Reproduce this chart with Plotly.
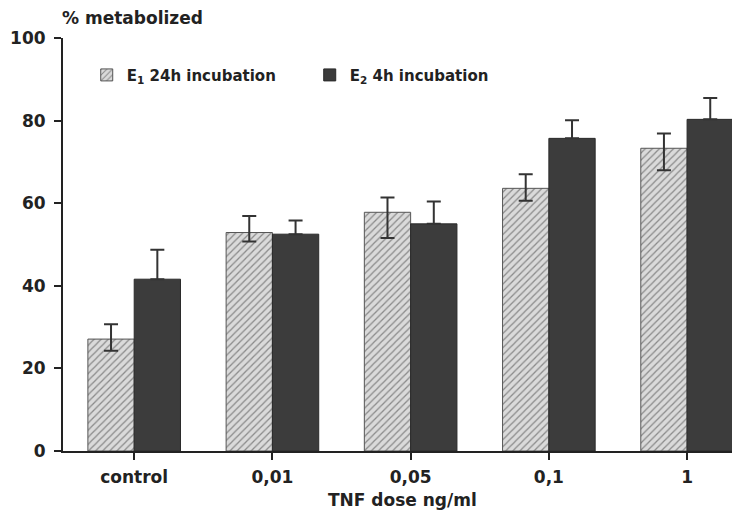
import plotly.graph_objects as go

categories = ["control", "0,01", "0,05", "0,1", "1"]
e1_values = [27.1, 52.9, 57.8, 63.6, 73.3]
e1_err_plus = [3.6, 4.0, 3.6, 3.4, 3.6]
e1_err_minus = [2.8, 2.2, 6.2, 3.0, 5.3]
e2_values = [41.6, 52.5, 55.0, 75.7, 80.3]
e2_err_plus = [7.1, 3.3, 5.4, 4.4, 5.2]
y_ticks = [0, 20, 40, 60, 80, 100]

FONT = "DejaVu Sans"
INK = "#222222"

fig = go.Figure()
fig.add_trace(go.Bar(
    x=categories, y=e1_values, name="E<sub>1</sub> 24h incubation",
    marker=dict(color="#d6d6d6",
                pattern=dict(shape="/", bgcolor="#dadada", fgcolor="#8a8a8a",
                             size=5, solidity=0.25, fillmode="replace"),
                line=dict(color="#555555", width=1)),
    error_y=dict(type="data", symmetric=False, array=e1_err_plus,
                 arrayminus=e1_err_minus, color="#333333", thickness=2, width=7),
))
fig.add_trace(go.Bar(
    x=categories, y=e2_values, name="E<sub>2</sub> 4h incubation",
    marker=dict(color="#3c3c3c", line=dict(color="#2a2a2a", width=1)),
    error_y=dict(type="data", array=e2_err_plus, arrayminus=[0]*5,
                 color="#333333", thickness=2, width=7),
))

fig.update_layout(
    width=740, height=510,
    margin=dict(l=55, r=7, t=30, b=67, autoexpand=False),
    paper_bgcolor="white", plot_bgcolor="white",
    barmode="group", bargap=0.33, bargroupgap=0,
    font=dict(family=FONT, size=18, color=INK),
    showlegend=True,
    legend=dict(orientation="h", x=0.035, y=0.91, xanchor="left", yanchor="middle",
                font=dict(family=FONT, size=15, color=INK, weight="bold"),
                bgcolor="rgba(0,0,0,0)", itemwidth=30, tracegroupgap=0,
                entrywidth=178, entrywidthmode="pixels"),
    xaxis=dict(range=[-0.515, 4.39], showline=True, linecolor=INK, linewidth=2,
               ticks="outside", ticklen=7, tickwidth=2, tickcolor=INK,
               showgrid=False, zeroline=False, ticklabelstandoff=3, automargin=False,
               tickfont=dict(family=FONT, size=17, color=INK, weight="bold")),
    yaxis=dict(range=[0, 100], tickvals=y_ticks, showline=True, linecolor=INK,
               linewidth=2, ticks="outside", ticklen=7, tickwidth=2, tickcolor=INK,
               showgrid=False, zeroline=False, ticklabelstandoff=5, automargin=False,
               tickfont=dict(family=FONT, size=17, color=INK, weight="bold")),
    annotations=[
        dict(text="% metabolized", xref="paper", yref="paper", x=-0.005, y=1.0,
             yshift=20, xanchor="left", yanchor="middle", showarrow=False,
             font=dict(family=FONT, size=17, color=INK, weight="bold")),
        dict(text="TNF dose ng/ml", xref="paper", yref="paper", x=0.5, y=0,
             yshift=-49, xanchor="center", yanchor="middle", showarrow=False,
             font=dict(family=FONT, size=17, color=INK, weight="bold")),
    ],
)

fig.write_html("out.html")
